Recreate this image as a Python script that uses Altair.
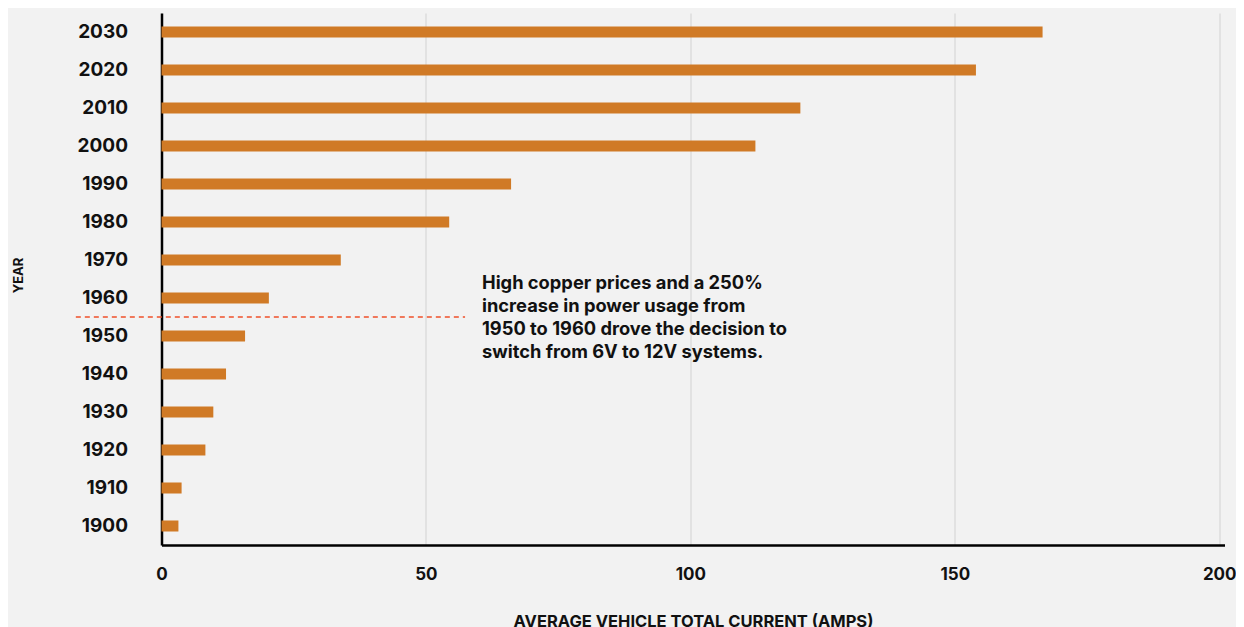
import altair as alt
import pandas as pd

years = ["2030", "2020", "2010", "2000", "1990", "1980", "1970", "1960",
         "1950", "1940", "1930", "1920", "1910", "1900"]
amps = [166.6, 154.0, 120.8, 112.3, 66.1, 54.4, 33.9, 20.3,
        15.8, 12.2, 9.8, 8.3, 3.8, 3.2]
x_ticks = [0, 50, 100, 150, 200]
note_lines = ["High copper prices and a 250%",
              "increase in power usage from",
              "1950 to 1960 drove the decision to",
              "switch from 6V to 12V systems."]
switch_year = "1960"
note_x = 60.6
rule_start = -16.2
rule_end = 57.4

FONT = "Inter"
BG = "#f2f2f2"

df = pd.DataFrame({"year": years, "amps": amps})

y_enc = alt.Y("year:N", sort=years,
              scale=alt.Scale(paddingInner=0.71, paddingOuter=0.355),
              axis=alt.Axis(title="YEAR", labelFont=FONT, labelFontSize=19,
                            labelFontWeight="bold", labelColor="#111111",
                            labelPadding=34, ticks=False, domainColor="#000000",
                            domainWidth=2.5, titleFont=FONT, titleFontSize=13,
                            titleFontWeight="bold", titleColor="#111111",
                            titleX=-143, titleY=262, titleAngle=270,
                            titleBaseline="middle", titleAlign="center"))

x_enc = alt.X("amps:Q",
              scale=alt.Scale(domain=[0, 201], nice=False),
              axis=alt.Axis(title="AVERAGE VEHICLE TOTAL CURRENT (AMPS)",
                            values=x_ticks, labelFont=FONT, labelFontSize=17,
                            labelFontWeight="bold", labelColor="#111111",
                            labelPadding=21, labelFlush=False, ticks=False,
                            domainColor="#000000",
                            domainWidth=2.5, gridColor="#dcdcdc", gridWidth=1.5,
                            titleFont=FONT, titleFontSize=16.5, titleFontWeight="bold",
                            titleColor="#111111", titleY=81,
                            titleBaseline="alphabetic"))

bars = alt.Chart(df).mark_bar(color="#d07a26").encode(x=x_enc, y=y_enc)

rule_df = pd.DataFrame({"year": [switch_year], "x1": [rule_start], "x2": [rule_end]})
rule = alt.Chart(rule_df).mark_rule(color="#f0502a", strokeDash=[5, 4],
                                    strokeWidth=1.3, yOffset=19).encode(
    y=alt.Y("year:N", sort=years),
    x=alt.X("x1:Q"),
    x2=alt.X2("x2"),
)

note_df = pd.DataFrame({"year": [switch_year], "x": [note_x],
                        "t": [note_lines]})
note = alt.Chart(note_df).mark_text(align="left", baseline="middle",
                                    font=FONT, fontSize=18.3, fontWeight="bold",
                                    lineHeight=23, color="#111111",
                                    yOffset=-13.7).encode(
    y=alt.Y("year:N", sort=years),
    x=alt.X("x:Q"),
    text="t",
)

chart = alt.layer(bars, rule, note).properties(
    width=1063, height=532,
    padding={"left": 153.5, "top": 5, "right": 11.5, "bottom": 90},
    autosize=alt.AutoSizeParams(type="none"),
    background=BG,
).configure_view(stroke=None)

chart.save("out.html", embed_options={"renderer": "svg", "actions": False})
